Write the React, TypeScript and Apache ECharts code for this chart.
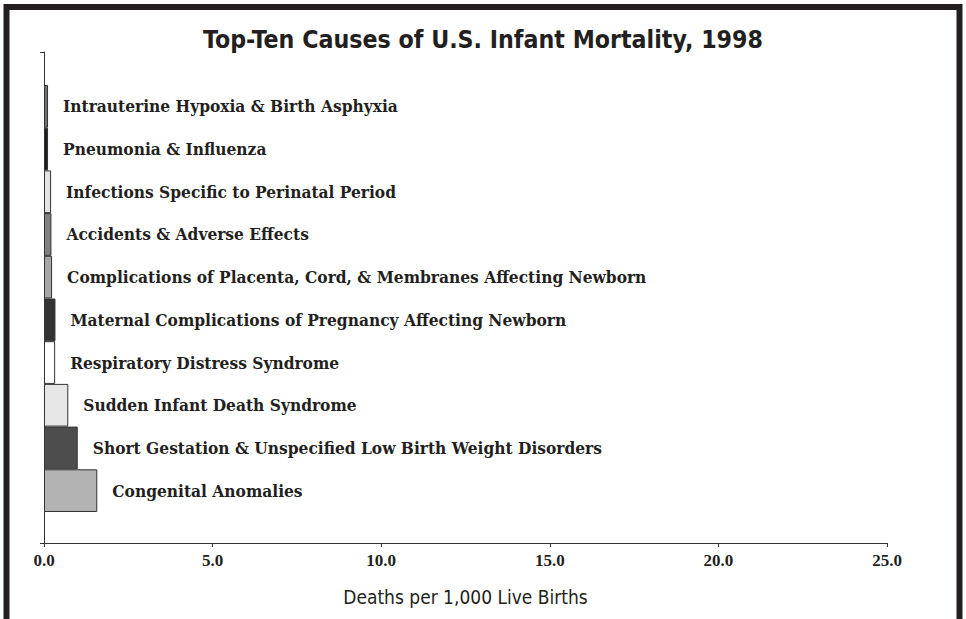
import React, { useEffect, useRef } from "react";
import * as echarts from "echarts";

// bottom to top
const causes = [
  "Congenital Anomalies",
  "Short Gestation & Unspecified Low Birth Weight Disorders",
  "Sudden Infant Death Syndrome",
  "Respiratory Distress Syndrome",
  "Maternal Complications of Pregnancy Affecting Newborn",
  "Complications of Placenta, Cord, & Membranes Affecting Newborn",
  "Accidents & Adverse Effects",
  "Infections Specific to Perinatal Period",
  "Pneumonia & Influenza",
  "Intrauterine Hypoxia & Birth Asphyxia",
];
const rates = [1.58, 1.0, 0.72, 0.33, 0.34, 0.24, 0.22, 0.21, 0.12, 0.12];
const barColors = [
  "#b3b3b3",
  "#4d4d4d",
  "#e6e6e6",
  "#ffffff",
  "#333333",
  "#a6a6a6",
  "#808080",
  "#e3e3e3",
  "#1c1c1c",
  "#707070",
];
const xTicks = [0, 5, 10, 15, 20, 25];

export default function App() {
  const ref = useRef<HTMLDivElement>(null);
  useEffect(() => {
    if (!ref.current) return;
    const chart = echarts.init(ref.current, undefined, { renderer: "svg" });
    const serif = "'DejaVu Serif Condensed', 'DejaVu Serif', serif";
    const tickSerif = "'Liberation Serif', serif";
    const sans = "'DejaVu Sans Condensed', 'DejaVu Sans', sans-serif";
    chart.setOption({
      animation: false,
      backgroundColor: "#ffffff",
      title: {
        text: "Top-Ten Causes of U.S. Infant Mortality, 1998",
        left: "center",
        top: 22,
        textStyle: {
          fontFamily: sans,
          fontWeight: "bold",
          fontSize: 24.7,
          color: "#231f20",
        },
      },
      graphic: [
        {
          type: "rect",
          shape: { x: 6.5, y: 7, width: 953, height: 800 },
          style: { fill: "none", stroke: "#231f20", lineWidth: 6 },
          silent: true,
        },
      ],
      grid: [
        { left: 44, right: 79, top: 52, bottom: 76 },
        { left: 44, right: 79, top: 85, bottom: 107 },
      ],
      xAxis: [
        {
          type: "value",
          gridIndex: 0,
          min: xTicks[0],
          max: xTicks[xTicks.length - 1],
          interval: 5,
          splitLine: { show: false },
          axisLine: { show: true, lineStyle: { color: "#333", width: 1 } },
          axisTick: { show: true, length: 4, lineStyle: { color: "#333" } },
          axisLabel: {
            margin: 9,
            fontFamily: tickSerif,
            fontWeight: "bold",
            fontSize: 17,
            color: "#231f20",
            formatter: (v: number) => v.toFixed(1),
          },
          name: "Deaths per 1,000 Live Births",
          nameLocation: "middle",
          nameGap: 44,
          nameTextStyle: {
            fontFamily: sans,
            fontSize: 19,
            color: "#231f20",
          },
        },
        {
          type: "value",
          gridIndex: 1,
          min: xTicks[0],
          max: xTicks[xTicks.length - 1],
          show: false,
        },
      ],
      yAxis: [
        {
          type: "value",
          gridIndex: 0,
          min: 0,
          max: 1,
          interval: 1,
          splitLine: { show: false },
          axisLine: { show: true, lineStyle: { color: "#333", width: 1 } },
          axisTick: { show: true, length: 4, lineStyle: { color: "#333" } },
          axisLabel: { show: false },
        },
        {
          type: "category",
          gridIndex: 1,
          data: causes,
          show: false,
        },
      ],
      series: [
        {
          type: "bar",
          xAxisIndex: 1,
          yAxisIndex: 1,
          barWidth: "100%",
          data: rates.map((v, i) => ({
            value: v,
            itemStyle: { color: barColors[i] },
          })),
          itemStyle: { borderColor: "#333", borderWidth: 1 },
          label: {
            show: true,
            position: "right",
            distance: 15,
            formatter: (p: any) => causes[p.dataIndex],
            fontFamily: serif,
            fontWeight: "bold",
            fontSize: 17.2,
            color: "#231f20",
          },
        },
      ],
    });
    return () => chart.dispose();
  }, []);
  return (
    <div
      ref={ref}
      style={{ position: "fixed", left: 0, top: 0, width: 966, height: 619 }}
    />
  );
}
